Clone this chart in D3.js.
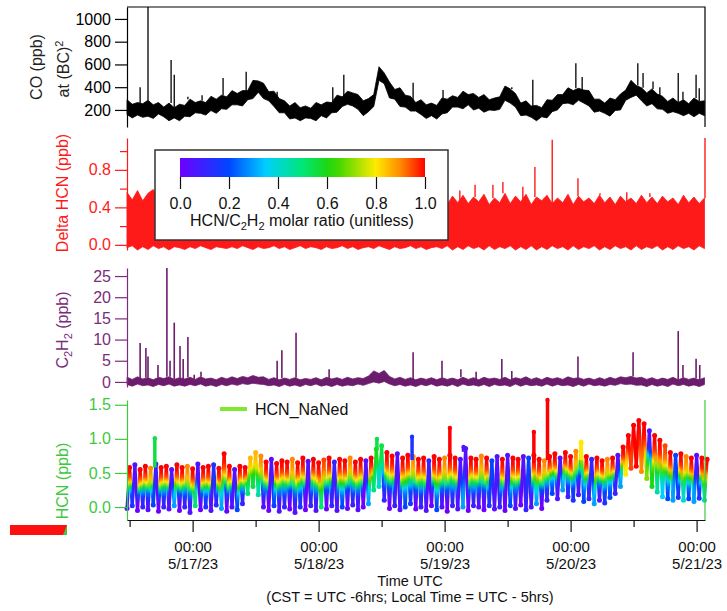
<!DOCTYPE html>
<html>
<head>
<meta charset="utf-8">
<script src="https://cdn.jsdelivr.net/npm/d3@7"></script>
<style>
  body { margin: 0; background: #fff; }
  svg text { font-family: "Liberation Sans", Arial, Helvetica, sans-serif; }
</style>
</head>
<body>
<script>
// hourly samples starting 5/16/23 11:30 UTC (min / max of each hour)
const startUtc = Date.UTC(2023, 4, 16, 11, 30);
const spanHours = 110.1;

const coLo = [160,130,155,135,145,125,165,140,105,130,
  105,145,140,175,170,155,195,170,210,205,
  245,245,235,290,300,355,300,280,230,175,
  175,120,130,105,130,125,105,150,130,175,
  180,230,250,235,205,150,185,230,460,430,
  305,295,230,225,190,190,160,125,150,120,
  165,175,225,225,210,245,200,215,180,200,
  195,205,285,260,225,150,155,135,105,140,
  130,185,200,255,260,245,285,260,235,180,
  190,170,145,195,200,285,310,330,280,235,
  255,210,205,170,185,170,150,170,140,170,
  150];
const coHi = [290,250,265,255,285,245,265,225,260,220,
  250,240,295,265,280,265,320,295,330,315,
  370,345,370,370,460,455,435,360,365,300,
  280,235,265,220,235,215,265,245,270,265,
  330,315,365,350,335,280,300,335,580,525,
  445,380,395,330,320,265,290,245,260,240,
  305,295,325,310,365,335,345,310,335,290,
  305,315,410,385,345,260,280,235,240,220,
  290,285,335,335,395,370,390,375,370,295,
  295,260,305,290,340,375,460,415,395,350,
  385,340,320,275,305,265,290,255,305,275,
  280];
// [hours after start, ppb]
const coSpikes = [[2.5,400],[4.0,1200],[8.4,640],[9.0,510],[11.6,315],[14.3,330],[18.3,480],
  [22.7,535],[28.6,360],[39.2,400],[41.3,510],[54.5,440],[60.2,375],[73.3,400],[77.3,465],
  [85.5,610],[86.7,490],[97.3,610],[98.3,525],[100.2,450],[101.5,400],[105.0,525],
  [105.9,360],[108.4,510],[109.0,390]];

const dhcnLo = [-0.03,-0.01,-0.06,-0.02,-0.05,-0.01,-0.04,-0.02,-0.06,-0.02,
  -0.03,-0.05,-0.02,-0.04,-0.01,-0.03,-0.05,-0.02,-0.03,-0.04,
  -0.02,-0.04,-0.01,-0.03,-0.05,-0.02,-0.04,-0.03,-0.01,-0.04,
  -0.02,-0.05,-0.03,-0.01,-0.04,-0.02,-0.03,-0.05,-0.02,-0.04,
  -0.03,-0.01,-0.04,-0.02,-0.05,-0.03,-0.02,-0.04,-0.01,-0.03,
  -0.05,-0.02,-0.04,-0.03,-0.01,-0.04,-0.02,-0.05,-0.03,-0.02,
  -0.04,-0.01,-0.06,-0.02,-0.05,-0.01,-0.04,-0.02,-0.06,-0.01,
  -0.05,-0.02,-0.04,-0.01,-0.06,-0.02,-0.05,-0.01,-0.09,-0.02,
  -0.05,-0.01,-0.04,-0.02,-0.06,-0.01,-0.05,-0.02,-0.04,-0.01,
  -0.06,-0.02,-0.05,-0.01,-0.04,-0.02,-0.06,-0.01,-0.05,-0.02,
  -0.04,-0.01,-0.06,-0.02,-0.05,-0.01,-0.04,-0.02,-0.06,-0.01,
  -0.04];
const dhcnHi = [0.56,0.48,0.58,0.47,0.55,0.59,0.50,0.44,0.52,0.43,
  0.47,0.44,0.48,0.46,0.45,0.49,0.46,0.47,0.44,0.48,
  0.46,0.45,0.49,0.47,0.44,0.48,0.46,0.45,0.47,0.49,
  0.45,0.48,0.46,0.44,0.47,0.45,0.48,0.46,0.49,0.45,
  0.47,0.44,0.48,0.46,0.45,0.49,0.47,0.46,0.48,0.45,
  0.47,0.49,0.46,0.48,0.45,0.47,0.50,0.46,0.48,0.47,
  0.50,0.43,0.52,0.45,0.53,0.44,0.51,0.46,0.54,0.43,
  0.50,0.45,0.55,0.44,0.52,0.46,0.54,0.43,0.51,0.47,
  0.53,0.44,0.50,0.45,0.54,0.43,0.52,0.46,0.50,0.44,
  0.53,0.45,0.51,0.43,0.52,0.46,0.50,0.44,0.53,0.45,
  0.51,0.44,0.52,0.46,0.50,0.43,0.53,0.45,0.51,0.44,
  0.50];
const dhcnSpikes = [[63.4,0.58],[66.3,0.64],[69.7,0.64],[71.6,0.67],[75.4,0.62],[77.7,0.83],
  [81.0,1.12],[85.9,0.71],[90.1,0.55],[95.2,0.56],[99.6,0.55],[110.1,1.2]];

const c2h2Lo = [-0.6,-1.0,-0.5,-0.9,-0.7,-1.1,-0.6,-0.9,-0.5,-1.0,
  -0.7,-1.0,-0.6,-0.9,-0.5,-1.0,-0.7,-1.1,-0.6,-0.9,
  -0.5,-0.8,-0.4,-0.6,-0.3,-0.5,-0.6,-0.9,-0.7,-1.1,
  -0.6,-1.0,-0.7,-1.1,-0.6,-0.9,-0.5,-1.0,-0.7,-1.1,
  -0.6,-1.0,-0.7,-0.9,-0.5,-0.8,-0.4,0.0,-0.3,0.1,
  -0.5,-0.9,-0.6,-1.0,-0.7,-1.1,-0.6,-0.9,-0.5,-1.0,
  -0.7,-1.0,-0.6,-1.1,-0.5,-0.9,-0.7,-1.0,-0.6,-1.1,
  -0.6,-0.9,-0.7,-1.1,-0.5,-1.0,-0.6,-0.9,-0.7,-1.0,
  -0.5,-1.0,-0.6,-0.9,-0.7,-1.1,-0.6,-1.0,-0.5,-0.9,
  -0.7,-1.0,-0.6,-0.8,-0.4,-0.6,-0.5,-0.8,-0.7,-1.1,
  -0.6,-1.0,-0.7,-1.1,-0.5,-0.9,-0.6,-1.0,-0.7,-1.1,
  -0.6];
const c2h2Hi = [1.1,0.6,1.2,0.7,1.0,0.5,1.1,0.8,1.2,0.6,
  1.0,0.7,1.1,0.6,1.2,0.7,0.9,0.5,1.1,0.7,
  1.2,0.8,1.3,1.0,1.5,1.1,1.2,0.6,1.0,0.5,
  0.9,0.6,1.0,0.5,0.8,0.6,1.0,0.5,1.1,0.7,
  1.0,0.6,1.1,0.7,1.0,0.8,1.4,2.6,2.0,2.7,
  1.3,0.7,1.1,0.6,1.0,0.5,0.9,0.6,1.0,0.5,
  1.0,0.6,0.9,0.5,1.1,0.6,1.0,0.5,1.1,0.7,
  0.9,0.6,1.1,0.5,1.0,0.7,1.2,0.6,1.0,0.5,
  1.1,0.7,1.0,0.6,1.2,0.8,1.0,0.6,0.9,0.5,
  1.0,0.6,1.1,0.7,1.2,1.0,1.3,0.9,1.1,0.6,
  1.0,0.5,0.9,0.6,1.1,0.5,1.0,0.6,0.9,0.5,
  1.0];
const c2h2Spikes = [[2.5,9.2],[3.6,8.0],[4.0,6.0],[5.9,4.0],[7.6,26.9],[8.2,5.0],[9.0,14.0],
  [10.1,8.5],[10.7,5.4],[11.6,10.6],[12.8,1.7],[14.1,2.4],[28.6,5.0],[29.5,7.5],[32.2,11.6],
  [38.5,3.0],[54.5,7.0],[60.0,5.0],[63.6,3.0],[66.5,2.4],[71.4,5.4],[73.3,2.6],[85.9,6.0],
  [96.4,7.0],[105.0,12.0],[105.9,4.0],[108.4,5.5],[109.1,4.0]];

const hcnLo = [-0.02,0.02,-0.05,0.0,-0.04,0.03,-0.06,0.0,-0.03,0.02,
  -0.05,0.0,-0.08,0.02,-0.04,0.0,-0.05,0.03,-0.02,-0.06,
  0.0,-0.04,0.05,0.2,0.3,0.18,0.0,-0.05,0.02,-0.06,
  0.0,-0.03,-0.08,0.0,-0.04,0.02,-0.05,0.0,-0.03,0.02,
  -0.05,0.0,-0.02,0.03,-0.04,0.0,0.05,0.25,0.3,0.1,
  -0.02,0.02,-0.04,0.0,0.05,-0.03,0.0,-0.05,0.02,-0.04,
  0.0,-0.06,0.02,-0.03,0.0,-0.05,0.02,0.0,-0.04,0.02,
  -0.03,0.0,-0.05,0.02,-0.02,0.03,-0.04,0.0,0.05,-0.02,
  0.1,0.2,0.12,0.25,0.15,0.1,0.18,0.08,0.12,0.05,
  0.1,0.06,0.14,0.2,0.3,0.48,0.57,0.6,0.52,0.42,
  0.3,0.22,0.15,0.12,0.1,0.14,0.1,0.12,0.08,0.13,
  0.1];
const hcnHi = [0.58,0.62,0.55,0.60,0.57,0.63,0.58,0.60,0.55,0.62,
  0.58,0.60,0.56,0.63,0.58,0.60,0.62,0.57,0.78,0.60,
  0.55,0.60,0.58,0.72,0.80,0.75,0.66,0.70,0.64,0.68,
  0.66,0.70,0.65,0.72,0.67,0.70,0.65,0.69,0.72,0.66,
  0.70,0.68,0.72,0.66,0.70,0.68,0.72,0.85,0.90,0.80,
  0.75,0.78,0.72,0.76,0.74,0.70,0.72,0.68,0.74,0.70,
  0.72,0.76,0.72,0.70,0.86,0.72,0.70,0.75,0.72,0.68,
  0.74,0.70,0.76,0.72,0.70,0.74,0.72,0.76,0.70,0.68,
  0.74,0.78,0.72,0.80,0.74,0.82,0.94,0.74,0.70,0.72,
  0.68,0.70,0.72,0.76,0.88,1.05,1.20,1.27,1.22,1.12,
  1.05,0.98,0.90,0.80,0.76,0.78,0.74,0.72,0.76,0.72,
  0.70];
// HCN/C2H2 molar ratio at the low and high point of each hour
const hcnLoRatio = [0.05,0.15,0.0,0.1,0.05,0.2,0.0,0.1,0.05,0.3,
  0.0,0.1,0.05,0.5,0.0,0.15,0.05,0.1,0.3,0.0,
  0.05,0.2,0.1,0.5,0.55,0.45,0.05,0.0,0.2,0.05,
  0.1,0.0,0.05,0.15,0.0,0.1,0.05,0.5,0.0,0.1,
  0.05,0.2,0.0,0.1,0.05,0.0,0.3,0.5,0.4,0.1,
  0.0,0.1,0.05,0.2,0.15,0.0,0.1,0.05,0.0,0.2,
  0.05,0.0,0.1,0.05,0.3,0.0,0.1,0.05,0.0,0.15,
  0.05,0.1,0.0,0.2,0.05,0.0,0.1,0.05,0.3,0.0,
  0.1,0.2,0.05,0.3,0.1,0.15,0.05,0.2,0.1,0.3,
  0.05,0.15,0.2,0.1,0.3,0.8,0.95,1.0,0.9,0.7,
  0.6,0.45,0.35,0.2,0.3,0.15,0.4,0.2,0.3,0.15,
  0.45];
const hcnHiRatio = [1,0.05,1,1,0.9,0.1,1,1,0.05,1,
  1,0.9,1,0.05,1,1,0.15,1,1,1,
  0.05,1,1,0.85,0.85,0.9,1,0.05,1,1,
  1,0.9,1,1,0.05,1,1,0.95,1,0.1,
  1,1,0.9,1,1,0.05,1,0.6,0.55,1,
  1,0.05,1,1,0.9,1,1,0.1,1,1,
  0.9,1,1,0.05,0.05,1,1,0.9,1,0.2,
  0.05,1,0.05,1,1,0.05,0.2,1,1,0.9,
  1,1,0.05,1,1,0.9,0.8,1,0.1,1,
  1,0.9,1,0.05,1,1,1,1,1,0.05,
  1,1,0.95,1,0.2,1,0.9,1,0.05,1,
  1];
// [hours after start, ppb, ratio]
const hcnSpikes = [[5.3,1.01,0.55],[47.6,1.0,0.55],[54.3,1.03,0.15],[61.5,1.16,1],
  [64.1,0.88,0.05],[77.5,1.1,1],[80.1,1.57,1],[86.5,0.96,0.8]];

const ratioTicks = [0, 0.2, 0.4, 0.6, 0.8, 1.0];
const dayTicks = ['2023-05-17', '2023-05-18', '2023-05-19', '2023-05-20', '2023-05-21'];
const noonTicks = ['2023-05-16', '2023-05-17', '2023-05-18', '2023-05-19', '2023-05-20'];

const W = 727, H = 611;
const FONT = '"Liberation Sans", Arial, Helvetica, sans-serif';
const RED = '#ff1a1a', PURPLE = '#6c1c6c', PURPLE_TXT = '#7a2c7a', GREEN = '#3ec83e';

const cmap = d3.scaleLinear()
  .domain([0, 0.2, 0.35, 0.5, 0.62, 0.8, 0.9, 1])
  .range(['#6e00ff', '#0046ff', '#00cfff', '#00e676', '#22d400', '#ffea00', '#ff8a00', '#ff0000'])
  .clamp(true);

const svg = d3.select('body').append('svg').attr('width', W).attr('height', H);
const defs = svg.append('defs');

const tAt = h => new Date(startUtc + h * 3600e3);
const x = d3.scaleUtc().domain([tAt(0), tAt(spanHours)]).range([127, 705]);

const yCo = d3.scaleLinear().domain([50, 1105]).range([127, 7]).clamp(true);
const yDh = d3.scaleLinear().domain([-0.055, 1.14]).range([250, 138]).clamp(true);
const yC2 = d3.scaleLinear().domain([-1.2, 26.9]).range([387, 268]).clamp(true);
const yHc = d3.scaleLinear().domain([-0.19, 1.57]).range([520, 400]).clamp(true);

// dense trace drawn as a ragged min/max band
function drawBand(lo, hi, y, color) {
  const rows = lo.map((v, i) => ({ t: tAt(i), lo: v, hi: hi[i] }));
  svg.append('path').datum(rows)
    .attr('d', d3.area().x(d => x(d.t)).y0(d => y(d.lo)).y1(d => y(d.hi)))
    .attr('fill', color).attr('stroke', color).attr('stroke-width', 0.8);
}

function drawSpikes(spikes, hi, y, color, w) {
  svg.append('g').selectAll('line').data(spikes).join('line')
    .attr('x1', d => x(tAt(d[0]))).attr('x2', d => x(tAt(d[0])))
    .attr('y1', d => y(hi[Math.min(hi.length - 1, Math.round(d[0]))]))
    .attr('y2', d => y(d[1]))
    .attr('stroke', color).attr('stroke-width', w);
}

function leftAxis(y, vals, fmt, color) {
  const g = svg.append('g').attr('transform', 'translate(127,0)')
    .call(d3.axisLeft(y).tickValues(vals).tickFormat(fmt).tickSize(12).tickPadding(4).tickSizeOuter(0))
    .attr('font-size', 16).attr('font-family', FONT);
  g.selectAll('path, line').attr('stroke', color).attr('stroke-width', 1.2);
  g.selectAll('text').attr('fill', color);
  return g;
}

function yTitle(cx, cy, color, parts) {
  const t = svg.append('text')
    .attr('transform', `translate(${cx},${cy}) rotate(-90)`)
    .attr('text-anchor', 'middle').attr('dy', '0.35em')
    .attr('font-size', 16).attr('fill', color);
  parts.forEach(p => {
    const s = t.append('tspan').text(p[0]);
    if (p[1]) s.attr('font-size', 11).attr('dy', p[1]);
    if (p[2]) s.attr('dy', p[2]);
  });
}

// ---- CO panel
drawBand(coLo, coHi, yCo, '#000');
drawSpikes(coSpikes, coHi, yCo, '#000', 1.3);
svg.append('path').attr('d', 'M127,7H705V127').attr('fill', 'none').attr('stroke', '#000').attr('stroke-width', 1.2);
leftAxis(yCo, [200, 400, 600, 800, 1000], d3.format('d'), '#000');
yTitle(36, 67, '#222', [['CO (ppb)']]);
yTitle(63, 69, '#222', [['at (BC)'], ['2', '-6'], ['', null, '6']]);

// ---- Delta HCN panel
drawBand(dhcnLo, dhcnHi, yDh, RED);
drawSpikes(dhcnSpikes, dhcnHi, yDh, RED, 1.4);
leftAxis(yDh, [0, 0.4, 0.8], d3.format('.1f'), RED);
svg.append('g').attr('transform', 'translate(127,0)')
  .call(d3.axisLeft(yDh).tickValues([0.2, 0.6, 1.0]).tickFormat('').tickSize(7).tickSizeOuter(0))
  .call(g => g.select('.domain').remove())
  .selectAll('line').attr('stroke', RED).attr('stroke-width', 1.2);
yTitle(62, 193, RED, [['Delta HCN (ppb)']]);

// ---- C2H2 panel
drawBand(c2h2Lo, c2h2Hi, yC2, PURPLE);
drawSpikes(c2h2Spikes, c2h2Hi, yC2, PURPLE, 1.6);
leftAxis(yC2, [0, 5, 10, 15, 20, 25], d3.format('d'), PURPLE_TXT);
yTitle(62, 330, PURPLE_TXT, [['C'], ['2', '4'], ['H', null, '-4'], ['2', '4'], [' (ppb)', null, '-4']]);

// ---- HCN panel, coloured by molar ratio
const hcnPts = [];
hcnLo.forEach((v, i) => {
  hcnPts.push({ t: tAt(i), v: v, r: hcnLoRatio[i] });
  hcnPts.push({ t: tAt(i + 0.5), v: hcnHi[i], r: hcnHiRatio[i] });
});
const segs = d3.pairs(hcnPts);
const ease = d3.easeCubicInOut;
segs.forEach(([a, b], k) => {
  const lg = defs.append('linearGradient').attr('id', 'hg' + k)
    .attr('gradientUnits', 'userSpaceOnUse')
    .attr('x1', x(a.t)).attr('y1', yHc(a.v)).attr('x2', x(b.t)).attr('y2', yHc(b.v));
  d3.range(9).forEach(j => lg.append('stop').attr('offset', j / 8)
    .attr('stop-color', cmap(a.r + (b.r - a.r) * ease(j / 8))));
});
const hcnG = svg.append('g');
hcnG.selectAll('line').data(segs).join('line')
  .attr('x1', d => x(d[0].t)).attr('y1', d => yHc(d[0].v))
  .attr('x2', d => x(d[1].t)).attr('y2', d => yHc(d[1].v))
  .attr('stroke', (d, k) => `url(#hg${k})`).attr('stroke-width', 3.2);
hcnG.selectAll('circle').data(hcnPts).join('circle')
  .attr('cx', d => x(d.t)).attr('cy', d => yHc(d.v)).attr('r', 2.5)
  .attr('fill', d => cmap(d.r));
const sp = svg.append('g');
sp.selectAll('line').data(hcnSpikes).join('line')
  .attr('x1', d => x(tAt(d[0]))).attr('x2', d => x(tAt(d[0])))
  .attr('y1', d => yHc(hcnHi[Math.round(d[0])] - 0.05)).attr('y2', d => yHc(d[1]))
  .attr('stroke', d => cmap(d[2])).attr('stroke-width', 3.5);
sp.selectAll('circle').data(hcnSpikes).join('circle')
  .attr('cx', d => x(tAt(d[0]))).attr('cy', d => yHc(d[1])).attr('r', 2.2)
  .attr('fill', d => cmap(d[2]));
svg.append('line').attr('x1', 705).attr('x2', 705).attr('y1', 400).attr('y2', 520)
  .attr('stroke', GREEN).attr('stroke-width', 1.2);
leftAxis(yHc, [0, 0.5, 1.0, 1.5], d3.format('.1f'), GREEN);
yTitle(62, 481, GREEN, [['HCN (ppb)']]);

// legend entry
svg.append('line').attr('x1', 220).attr('x2', 247).attr('y1', 409).attr('y2', 409)
  .attr('stroke', '#80e830').attr('stroke-width', 4);
svg.append('text').attr('x', 255).attr('y', 415).attr('font-size', 16).attr('fill', '#111').text('HCN_NaNed');

// stray legend swatch at left edge
svg.append('rect').attr('x', 10).attr('y', 525).attr('width', 57).attr('height', 10).attr('fill', '#ff1010');
svg.append('path').attr('d', 'M63,535L67,525V535Z').attr('fill', GREEN);

// ---- time axis
const parseDay = d3.utcParse('%Y-%m-%d');
const dayDates = dayTicks.map(parseDay);
const noonDates = noonTicks.map(s => new Date(parseDay(s).getTime() + 12 * 3600e3));
const xa = svg.append('g').attr('transform', 'translate(0,520)')
  .call(d3.axisBottom(x).tickValues(dayDates).tickSize(12).tickSizeOuter(0))
  .attr('font-size', 15).attr('font-family', FONT);
xa.selectAll('path, line').attr('stroke', '#111').attr('stroke-width', 1.2);
xa.selectAll('.tick text').each(function (d) {
  const t = d3.select(this).attr('dy', null).attr('y', null).text(null).attr('fill', '#111');
  t.append('tspan').attr('x', 0).attr('y', 32).text(d3.utcFormat('%H:%M')(d));
  t.append('tspan').attr('x', 0).attr('y', 49).text(`${d.getUTCMonth() + 1}/${d.getUTCDate()}/23`);
});
svg.append('g').attr('transform', 'translate(0,520)')
  .call(d3.axisBottom(x).tickValues(noonDates).tickFormat('').tickSize(7).tickSizeOuter(0))
  .call(g => g.select('.domain').remove())
  .selectAll('line').attr('stroke', '#111').attr('stroke-width', 1.2);
svg.append('text').attr('x', 410).attr('y', 585.5).attr('text-anchor', 'middle')
  .attr('font-size', 14.5).attr('fill', '#111').text('Time UTC');
svg.append('text').attr('x', 410).attr('y', 602).attr('text-anchor', 'middle')
  .attr('font-size', 14.5).attr('fill', '#111').text('(CST = UTC -6hrs; Local Time = UTC - 5hrs)');

// ---- colour scale legend box
svg.append('rect').attr('x', 155).attr('y', 150).attr('width', 293).attr('height', 90)
  .attr('fill', '#fff').attr('stroke', '#333').attr('stroke-width', 1.5);
const cbar = defs.append('linearGradient').attr('id', 'cbar');
d3.range(21).forEach(j => cbar.append('stop').attr('offset', j / 20).attr('stop-color', cmap(j / 20)));
const xr = d3.scaleLinear().domain([0, 1]).range([180, 425]);
svg.append('rect').attr('x', xr(0)).attr('y', 158).attr('width', xr(1) - xr(0)).attr('height', 19)
  .attr('fill', 'url(#cbar)');
const ca = svg.append('g').attr('transform', 'translate(0,177)')
  .call(d3.axisBottom(xr).tickValues(ratioTicks).tickFormat(d3.format('.1f')).tickSize(12).tickPadding(9))
  .attr('font-size', 16).attr('font-family', FONT);
ca.select('.domain').remove();
ca.selectAll('line').attr('stroke', '#111').attr('stroke-width', 1.2);
ca.selectAll('text').attr('fill', '#111');
const ct = svg.append('text').attr('x', 302).attr('y', 226).attr('text-anchor', 'middle')
  .attr('font-size', 16).attr('fill', '#111');
ct.append('tspan').text('HCN/C');
ct.append('tspan').attr('font-size', 11).attr('dy', 4).text('2');
ct.append('tspan').attr('dy', -4).text('H');
ct.append('tspan').attr('font-size', 11).attr('dy', 4).text('2');
ct.append('tspan').attr('dy', -4).text(' molar ratio (unitless)');
</script>
</body>
</html>
